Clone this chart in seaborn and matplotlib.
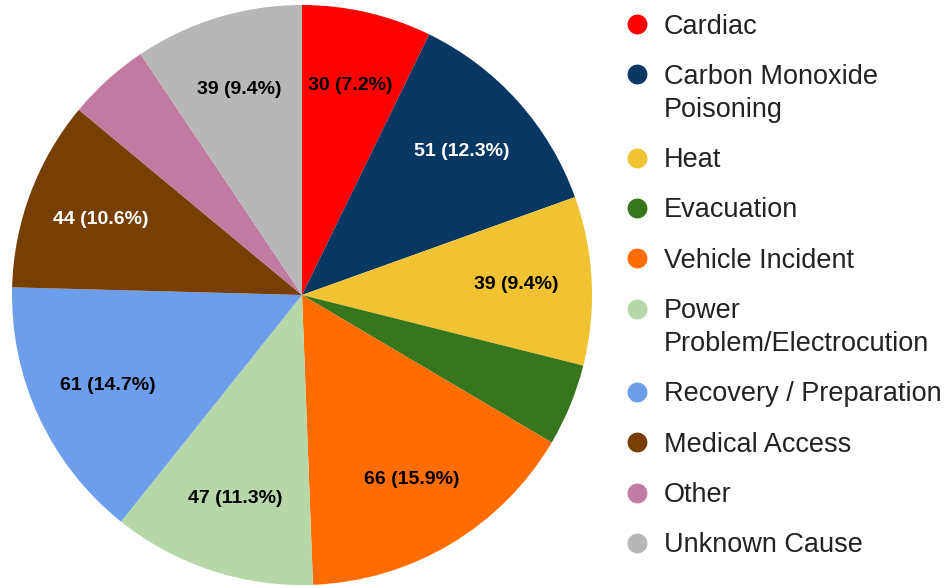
import matplotlib.pyplot as plt
import seaborn as sns

# Incident causes, clockwise from 12 o'clock
causes = ["Cardiac", "Carbon Monoxide\nPoisoning", "Heat", "Evacuation",
          "Vehicle Incident", "Power\nProblem/Electrocution",
          "Recovery / Preparation", "Medical Access", "Other", "Unknown Cause"]
counts = [30, 51, 39, 19, 66, 47, 61, 44, 19, 39]
colors = ["#FF0000", "#073763", "#F1C232", "#38761D", "#FF6D01",
          "#B6D7A8", "#6D9EEB", "#783F04", "#C27BA0", "#B7B7B7"]
dark_slices = ["#073763", "#783F04"]

sns.set_theme(style="white")
plt.rcParams["font.family"] = ["Liberation Sans", "DejaVu Sans"]

W, H = 945, 588
fig = plt.figure(figsize=(W / 100, H / 100), dpi=100)
ax = fig.add_axes([12 / W, 3 / H, 580 / W, 580 / H])

total = sum(counts)


def pct_label(pct):
    # small slices stay unlabelled, like the original
    if pct < 5:
        return ""
    n = int(round(pct * total / 100))
    return f"{n} ({pct:.1f}%)"


wedges, texts, autotexts = ax.pie(
    counts, colors=colors, startangle=90, counterclock=False,
    autopct=pct_label, pctdistance=0.74, radius=1,
    wedgeprops={"linewidth": 0},
    textprops={"fontsize": 14, "fontweight": "bold"})
for c, t in zip(colors, autotexts):
    t.set_color("white" if c in dark_slices else "black")
ax.set_xlim(-1, 1)
ax.set_ylim(-1, 1)
ax.set_aspect("equal")

# Legend drawn by hand so the marker sits on the first line of wrapped labels
lax = fig.add_axes([0, 0, 1, 1])
lax.set_xlim(0, W)
lax.set_ylim(H, 0)
lax.axis("off")

row_gap, line_gap = 50.33, 33
y = 24
for c, label in zip(colors, causes):
    lines = label.split("\n")
    lax.scatter(637, y, s=205, color=c, linewidths=0)
    for k, line in enumerate(lines):
        lax.text(664, y + 9.5 + k * line_gap, line, fontsize=19.5,
                 color="#222222", va="baseline", ha="left")
    y += row_gap + line_gap * (len(lines) - 1)

fig.savefig("out.png", dpi=100, facecolor="white")
